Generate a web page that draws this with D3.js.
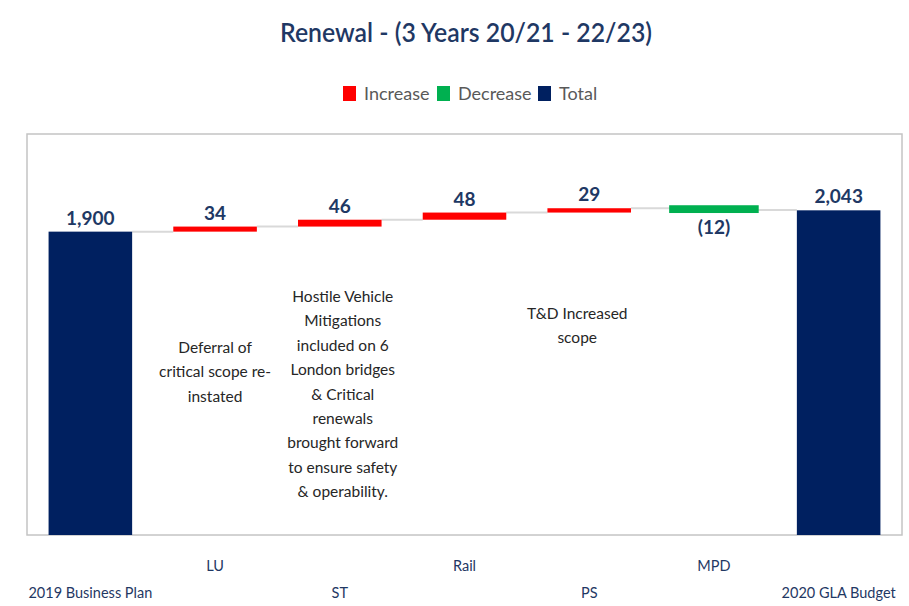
<!DOCTYPE html>
<html>
<head>
<meta charset="utf-8">
<script src="https://cdn.jsdelivr.net/npm/d3@7"></script>
<style>
  body { margin: 0; background: #fff; }
  svg { display: block; }
</style>
</head>
<body>
<script>
"use strict";
// chart values
const categories = ["2019 Business Plan", "LU", "ST", "Rail", "PS", "MPD", "2020 GLA Budget"];
const values = [1900, 34, 46, 48, 29, -12, 2043];
const kinds = ["total", "increase", "increase", "increase", "increase", "decrease", "total"];
const valueLabels = ["1,900", "34", "46", "48", "29", "(12)", "2,043"];
const legendNames = ["Increase", "Decrease", "Total"];
const notes = [
  {cat: "LU", lines: ["Deferral of", "critical scope re-", "instated"]},
  {cat: "ST", lines: ["Hostile Vehicle", "Mitigations", "included on 6", "London bridges", "& Critical", "renewals", "brought forward", "to ensure safety", "& operability."]},
  {cat: "PS", lines: ["T&D Increased", "scope"]}
];
const yDomain = [-135, 2555];

const W = 909, H = 606;
const box = {left: 27, right: 902, top: 134, bottom: 535};
const colors = {increase: "#FF0000", decrease: "#00B050", total: "#002060"};
const navy = "#1F3864";

const svg = d3.select("body").append("svg")
    .attr("width", W).attr("height", H);

// title
svg.append("text")
    .attr("x", 466).attr("y", 42)
    .attr("text-anchor", "middle")
    .attr("font-family", "Lato, sans-serif")
    .attr("font-weight", 600)
    .attr("font-size", 27)
    .attr("fill", navy)
    .attr("textLength", 372)
    .attr("lengthAdjust", "spacingAndGlyphs")
    .text("Renewal - (3 Years 20/21 - 22/23)");

// legend
const legendX = [343, 437, 538];
const legend = svg.append("g");
legendNames.forEach(function(name, i){
    const g = legend.append("g").attr("transform", "translate(" + legendX[i] + ",86)");
    g.append("rect").attr("width", 13).attr("height", 15)
        .attr("fill", colors[name.toLowerCase()]);
    g.append("text").attr("x", 21).attr("y", 14)
        .attr("font-family", "Lato, sans-serif")
        .attr("font-size", 18)
        .attr("fill", "#595959")
        .text(name);
});

// plot box
svg.append("rect")
    .attr("x", box.left).attr("y", box.top)
    .attr("width", box.right - box.left).attr("height", box.bottom - box.top)
    .attr("fill", "#fff")
    .attr("stroke", "#c4c4c4").attr("stroke-width", 1.5);

const x = d3.scaleBand()
    .domain(categories)
    .range([28, 901])
    .paddingInner(0.33)
    .paddingOuter(0.165);

const y = d3.scaleLinear()
    .domain(yDomain)
    .range([box.bottom, box.top]);

// running totals
let running = 0;
const rows = categories.map(function(c, i){
    let start, end;
    if (kinds[i] === "total") {
        start = yDomain[0]; end = values[i]; running = values[i];
    } else {
        start = running; end = running + values[i]; running = end;
    }
    return {cat: c, kind: kinds[i], start: start, end: end, label: valueLabels[i], level: end};
});

// connectors
const conn = svg.append("g");
rows.slice(0, -1).forEach(function(d, i){
    const next = rows[i + 1];
    conn.append("line")
        .attr("x1", x(d.cat) + x.bandwidth())
        .attr("x2", x(next.cat))
        .attr("y1", y(d.level)).attr("y2", y(d.level))
        .attr("stroke", "#d9d9d9").attr("stroke-width", 2);
});

// bars
svg.append("g").selectAll("rect")
    .data(rows)
    .enter()
    .append("rect")
    .attr("x", function(d){ return x(d.cat); })
    .attr("width", x.bandwidth())
    .attr("y", function(d){ return y(Math.max(d.start, d.end)); })
    .attr("height", function(d){ return Math.abs(y(d.start) - y(d.end)); })
    .attr("fill", function(d){ return colors[d.kind]; })
    .attr("stroke", function(d){ return d.kind === "decrease" ? colors.decrease : "none"; })
    .attr("stroke-width", 6);

// value labels
svg.append("g").selectAll("text")
    .data(rows)
    .enter()
    .append("text")
    .attr("x", function(d){ return x(d.cat) + x.bandwidth() / 2; })
    .attr("y", function(d){
        if (d.kind === "decrease") return y(Math.min(d.start, d.end)) + 24;
        return y(Math.max(d.start, d.end)) - 7;
    })
    .attr("text-anchor", "middle")
    .attr("font-family", "Lato, sans-serif")
    .attr("font-weight", 700)
    .attr("font-size", 19)
    .attr("fill", "#203864")
    .text(function(d){ return d.label; });

// annotations
const noteTop = {LU: 353, ST: 302, PS: 319};
const noteShift = {LU: 0, ST: 3, PS: -12};
notes.forEach(function(n){
    const t = svg.append("text")
        .attr("text-anchor", "middle")
        .attr("font-family", "Lato, sans-serif")
        .attr("font-size", 15.5)
        .attr("fill", "#262626");
    n.lines.forEach(function(line, j){
        t.append("tspan")
            .attr("x", x(n.cat) + x.bandwidth() / 2 + noteShift[n.cat])
            .attr("y", noteTop[n.cat] + j * 24.4)
            .text(line);
    });
});

// x labels, staggered
svg.append("g").selectAll("text")
    .data(categories)
    .enter()
    .append("text")
    .attr("x", function(d){ return x(d) + x.bandwidth() / 2; })
    .attr("y", function(d, i){ return i % 2 === 0 ? 598 : 571; })
    .attr("text-anchor", "middle")
    .attr("font-family", "Lato, sans-serif")
    .attr("font-size", 14.5)
    .attr("fill", navy)
    .text(function(d){ return d; });
</script>
</body>
</html>
